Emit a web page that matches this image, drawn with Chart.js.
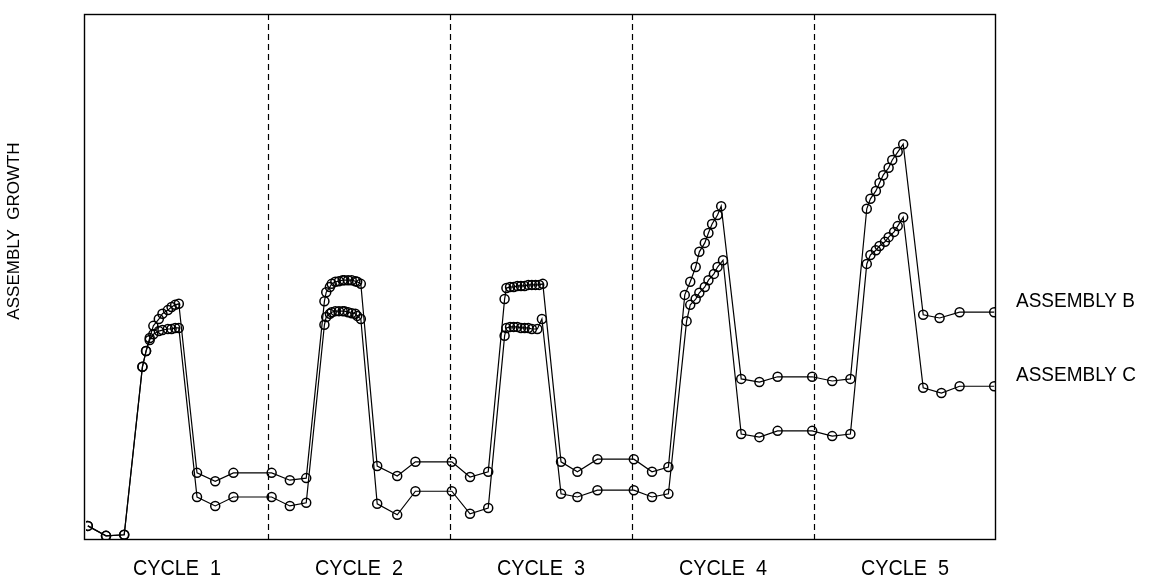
<!DOCTYPE html>
<html lang="en">
<head>
  <meta charset="UTF-8">
  <title>Assembly Growth by Cycle</title>
  <script src="https://cdn.jsdelivr.net/npm/chart.js"></script>
  <style>
    html, body { margin: 0; padding: 0; background: #fff; }
    #wrap { width: 1162px; height: 585px; }
  </style>
</head>
<body>
  <div id="wrap"><canvas id="growthChart"></canvas></div>
  <script>
    // cycle layout (time units) and labels
    const cycleLabels = ['CYCLE  1', 'CYCLE  2', 'CYCLE  3', 'CYCLE  4', 'CYCLE  5'];
    const cycleBounds = [10, 20, 30, 40];
    const cycleCenters = [5, 15, 25, 35, 45];
    const seriesNames = ['ASSEMBLY B', 'ASSEMBLY C'];
    const axisTitle = 'ASSEMBLY  GROWTH';

    // Assembly B
    const bTime = [0.1, 1.1, 2.1, 3.1, 3.3, 3.5, 3.7, 4.0, 4.2, 4.5, 4.7, 4.9, 5.1,
      6.1, 7.1, 8.1, 10.2, 11.2, 12.1,
      13.1, 13.2, 13.4, 13.5, 13.7, 13.9, 14.1, 14.2, 14.4, 14.6, 14.8, 14.9, 15.1,
      16.0, 17.1, 18.1, 20.1, 21.1, 22.1,
      23.0, 23.1, 23.3, 23.5, 23.7, 23.9, 24.1, 24.3, 24.5, 24.7, 24.9, 25.1,
      26.1, 27.0, 28.1, 30.1, 31.1, 32.0,
      32.9, 33.2, 33.5, 33.7, 34.0, 34.2, 34.4, 34.7, 34.9,
      36.0, 37.0, 38.0, 39.9, 41.0, 42.0,
      42.9, 43.1, 43.4, 43.6, 43.8, 44.1, 44.3, 44.6, 44.9,
      46.0, 46.9, 48.0, 49.9];
    const bGrowth = [2.5, 0.6, 0.8, 32.8, 35.8, 38.3, 40.6, 41.9, 42.9, 43.6, 44.2, 44.6, 44.8,
      12.6, 11.0, 12.6, 12.6, 11.2, 11.6,
      45.3, 47.0, 48.0, 48.6, 49.0, 49.1, 49.3, 49.3, 49.3, 49.3, 49.1, 49.0, 48.6,
      13.9, 12.0, 14.7, 14.7, 11.8, 12.8,
      45.7, 47.8, 48.0, 48.0, 48.2, 48.2, 48.2, 48.4, 48.4, 48.4, 48.4, 48.6,
      14.7, 12.8, 15.2, 15.2, 12.8, 13.7,
      46.5, 49.0, 51.8, 54.7, 56.4, 58.3, 60.0, 61.7, 63.4,
      30.5, 29.9, 30.9, 30.9, 30.1, 30.5,
      62.9, 64.8, 66.3, 67.8, 69.3, 70.7, 72.2, 73.7, 75.2,
      42.7, 42.1, 43.2, 43.2];

    // Assembly C
    const cTime = [0.1, 1.1, 2.1, 3.1, 3.3, 3.5, 3.7, 4.0, 4.2, 4.5, 4.7, 4.9, 5.1,
      6.1, 7.1, 8.1, 10.2, 11.2, 12.1,
      13.1, 13.2, 13.4, 13.5, 13.7, 13.9, 14.1, 14.2, 14.4, 14.6, 14.8, 14.9, 15.1,
      16.0, 17.1, 18.1, 20.1, 21.1, 22.1,
      23.0, 23.1, 23.3, 23.5, 23.7, 23.9, 24.1, 24.3, 24.5, 24.8, 25.05,
      26.1, 27.0, 28.1, 30.1, 31.1, 32.0,
      33.0, 33.2, 33.5, 33.7, 34.0, 34.2, 34.5, 34.7, 35.0,
      36.0, 37.0, 38.0, 39.9, 41.0, 42.0,
      42.9, 43.1, 43.4, 43.6, 43.9, 44.1, 44.4, 44.6, 44.9,
      46.0, 47.0, 48.0, 49.9];
    const cGrowth = [2.5, 0.6, 0.8, 32.8, 35.8, 37.9, 39.0, 39.6, 39.8, 40.0, 40.0, 40.2, 40.2,
      8.0, 6.3, 8.0, 8.0, 6.3, 6.9,
      40.8, 42.3, 42.9, 43.2, 43.4, 43.4, 43.4, 43.4, 43.2, 43.0, 42.9, 42.5, 41.9,
      6.7, 4.6, 9.1, 9.1, 4.8, 5.9,
      38.7, 40.2, 40.4, 40.4, 40.4, 40.2, 40.2, 40.2, 40.0, 40.0, 41.9,
      8.6, 8.0, 9.3, 9.3, 8.0, 8.6,
      41.5, 44.6, 45.7, 46.9, 48.0, 49.3, 50.5, 51.8, 53.1,
      20.0, 19.4, 20.6, 20.6, 19.6, 20.0,
      52.4, 54.1, 55.0, 55.8, 56.6, 57.5, 58.5, 59.6, 61.3,
      28.8, 27.8, 29.1, 29.1];

    const toPoints = (xs, ys) => xs.map((x, i) => ({ x: x, y: ys[i] }));

    const FONT = '"Liberation Sans", Arial, sans-serif';

    // narrow, tall lettering like the plotter font
    function narrowText(ctx, text, x, y, size, squeeze) {
      ctx.save();
      ctx.translate(x, y);
      ctx.scale(squeeze, 1);
      ctx.font = size + 'px ' + FONT;
      ctx.fillText(text, 0, 0);
      ctx.restore();
    }

    // frame, dashed cycle dividers and all the text
    const decorations = {
      id: 'decorations',
      beforeDatasetsDraw(chart) {
        const { ctx, chartArea: a, scales: { x } } = chart;
        ctx.save();
        ctx.strokeStyle = '#000';
        ctx.lineWidth = 1.2;
        ctx.setLineDash([6, 4]);
        cycleBounds.forEach(v => {
          const px = Math.round(x.getPixelForValue(v)) + 0.5;
          ctx.beginPath();
          ctx.moveTo(px, a.top);
          ctx.lineTo(px, a.bottom);
          ctx.stroke();
        });
        ctx.setLineDash([]);
        ctx.lineWidth = 1.4;
        ctx.strokeRect(a.left - 1.5, a.top + 0.5, a.right - a.left + 1, a.bottom - a.top);
        ctx.restore();
      },
      afterDraw(chart) {
        const { ctx, chartArea: a, scales: { x, y } } = chart;
        ctx.save();
        ctx.fillStyle = '#000';
        ctx.textBaseline = 'alphabetic';

        ctx.textAlign = 'center';
        cycleCenters.forEach((v, i) => {
          narrowText(ctx, cycleLabels[i], x.getPixelForValue(v), a.bottom + 36, 22, 0.9);
        });

        ctx.textAlign = 'left';
        [bGrowth, cGrowth].forEach((arr, i) => {
          const py = y.getPixelForValue(arr[arr.length - 1]);
          narrowText(ctx, seriesNames[i], a.right + 20, py - 5, 20, 0.95);
        });

        ctx.translate(14, 231);
        ctx.rotate(-Math.PI / 2);
        ctx.textAlign = 'center';
        ctx.textBaseline = 'middle';
        narrowText(ctx, axisTitle, 0, 0, 17, 1);
        ctx.restore();
      }
    };

    const lineStyle = {
      borderColor: '#000',
      borderWidth: 1.2,
      pointStyle: 'circle',
      pointRadius: 4.5,
      pointBorderWidth: 1.5,
      pointBorderColor: '#000',
      pointBackgroundColor: 'rgba(0,0,0,0)',
      fill: false,
      tension: 0
    };

    new Chart(document.getElementById('growthChart').getContext('2d'), {
      type: 'line',
      data: {
        datasets: [
          Object.assign({ label: seriesNames[0], data: toPoints(bTime, bGrowth) }, lineStyle),
          Object.assign({ label: seriesNames[1], data: toPoints(cTime, cGrowth) }, lineStyle)
        ]
      },
      options: {
        responsive: true,
        maintainAspectRatio: false,
        animation: false,
        layout: { padding: { left: 86, right: 166, top: 14, bottom: 46 } },
        plugins: {
          legend: { display: false },
          tooltip: { enabled: false }
        },
        scales: {
          x: { type: 'linear', min: 0, max: 50, display: false },
          y: { type: 'linear', min: 0, max: 100, display: false }
        },
        elements: { point: { hitRadius: 0 } }
      },
      plugins: [decorations]
    });
  </script>
</body>
</html>
